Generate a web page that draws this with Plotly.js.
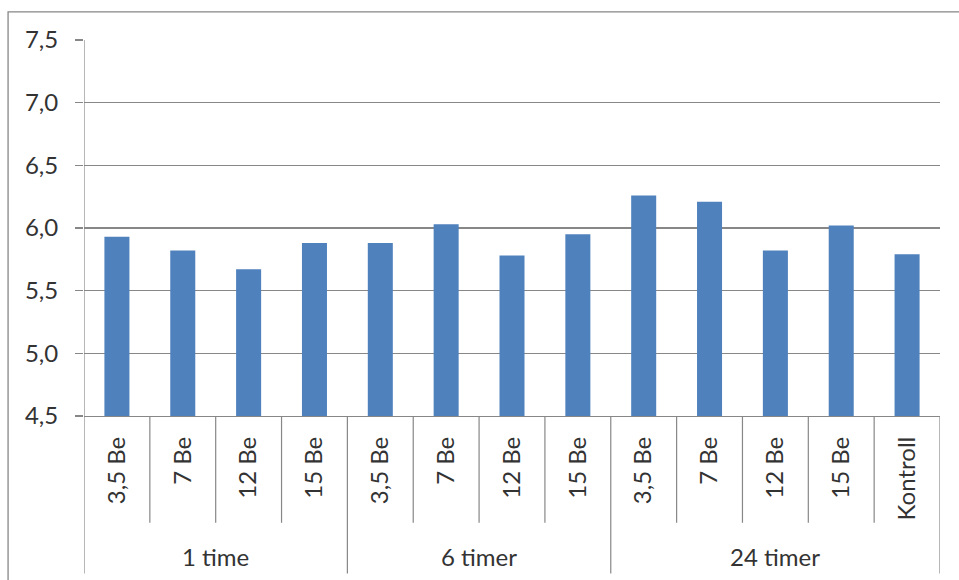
<!DOCTYPE html>
<html>
<head>
<meta charset="utf-8">
<script src="https://cdn.plot.ly/plotly-3.0.1.min.js"></script>
<style>html,body{margin:0;padding:0;background:#fff;}#chart{width:959px;height:580px;}</style>
</head>
<body>
<div id="chart"></div>
<script>
// Data
const groups = ["1 time", "6 timer", "24 timer"];
const groupSizes = [4, 4, 5];
const categories = ["3,5 Be", "7 Be", "12 Be", "15 Be",
                    "3,5 Be", "7 Be", "12 Be", "15 Be",
                    "3,5 Be", "7 Be", "12 Be", "15 Be", "Kontroll"];
const values = [5.93, 5.82, 5.67, 5.88,
                5.88, 6.03, 5.78, 5.95,
                6.26, 6.21, 5.82, 6.02, 5.79];
const yTickVals = [4.5, 5.0, 5.5, 6.0, 6.5, 7.0, 7.5];
const yTickText = ["4,5", "5,0", "5,5", "6,0", "6,5", "7,0", "7,5"];

const idx = categories.map((_, i) => i);
const lineColor = "#878787";
const textColor = "#333333";
const fontFam = "Lato, 'Open Sans', sans-serif";

const shapes = [];
// outer chart frame
shapes.push({type: "rect", xref: "paper", yref: "paper", x0: -0.0887, x1: 1.2, y0: -0.6, y1: 1.075,
             line: {color: lineColor, width: 1.3}, fillcolor: "rgba(0,0,0,0)", layer: "below"});
// category separators
const groupEnds = [];
let acc = 0;
groupSizes.forEach(s => { acc += s; groupEnds.push(acc); });
for (let b = 0; b <= categories.length; b++) {
  const isGroup = b === 0 || groupEnds.includes(b);
  shapes.push({type: "line", xref: "x", yref: "paper", x0: b - 0.5, x1: b - 0.5,
               y0: isGroup && b === 0 ? 1 : 0, y1: isGroup ? -0.419 : -0.284,
               line: {color: lineColor, width: 1.2}});
}
// group labels
const annotations = [];
let start = 0;
groups.forEach((g, k) => {
  const center = start + (groupSizes[k] - 1) / 2;
  annotations.push({text: g, xref: "x", yref: "paper", x: center, y: -0.374,
                    showarrow: false, xanchor: "center", yanchor: "middle",
                    font: {family: fontFam, size: 24, color: textColor}});
  start += groupSizes[k];
});

const trace = {
  type: "bar", x: idx, y: values,
  marker: {color: "#4F81BD", line: {width: 0}},
  hoverinfo: "skip"
};

const layout = {
  width: 959, height: 580,
  margin: {l: 84, r: 19, t: 39.5, b: 163.7, pad: 0},
  paper_bgcolor: "#ffffff", plot_bgcolor: "#ffffff",
  showlegend: false,
  bargap: 0.62,
  font: {family: fontFam, size: 24, color: textColor},
  xaxis: {
    range: [-0.5, categories.length - 0.5], tickmode: "array",
    tickvals: idx, ticktext: categories, tickangle: -90,
    showgrid: false, zeroline: false, showline: true, linecolor: lineColor, linewidth: 1.2,
    ticks: "", ticklabelstandoff: 10, fixedrange: true,
    tickfont: {family: fontFam, size: 24, color: textColor}
  },
  yaxis: {
    range: [4.5, 7.5], tickmode: "array", tickvals: yTickVals, ticktext: yTickText,
    showgrid: true, gridcolor: lineColor, gridwidth: 1.2, zeroline: false,
    showline: false, ticks: "outside", ticklen: 8, tickcolor: lineColor, tickwidth: 1.2,
    ticklabelstandoff: 12, fixedrange: true,
    tickfont: {family: fontFam, size: 24, color: textColor}
  },
  shapes: shapes,
  annotations: annotations
};

Plotly.newPlot("chart", [trace], layout, {displayModeBar: false, staticPlot: true});
</script>
</body>
</html>
